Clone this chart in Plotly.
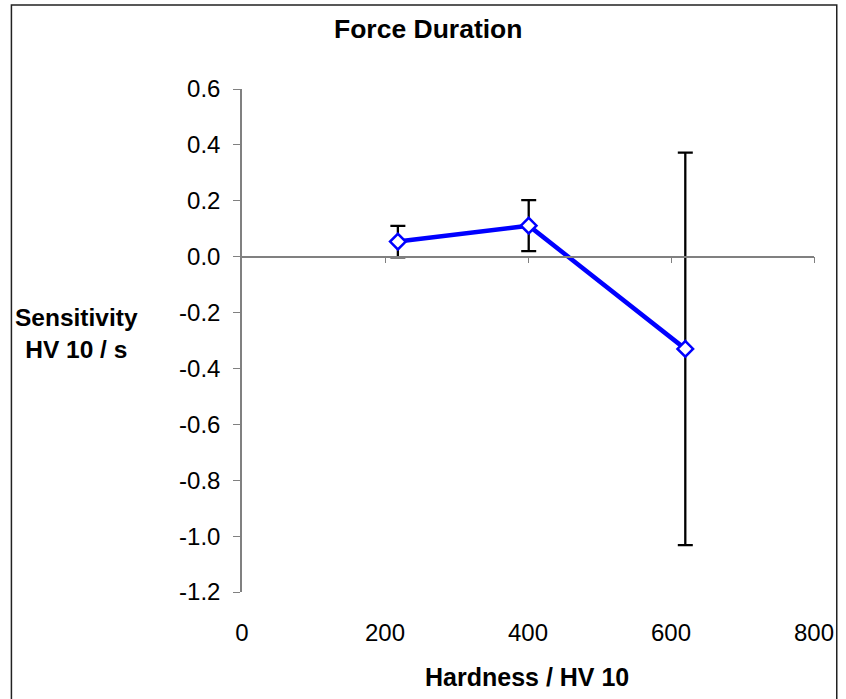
import plotly.graph_objects as go

# ---- data ----
hardness = [218, 401, 620]
sensitivity = [0.054, 0.111, -0.330]
error = [0.056, 0.091, 0.702]

x_ticks = [0, 200, 400, 600, 800]
x_ticktext = ["0", "200", "400", "600", "800"]
y_ticks = [-1.2, -1.0, -0.8, -0.6, -0.4, -0.2, 0.0, 0.2, 0.4, 0.6]
y_ticktext = ["-1.2", "-1.0", "-0.8", "-0.6", "-0.4", "-0.2", "0.0", "0.2", "0.4", "0.6"]

title_text = "Force Duration"
x_title = "Hardness / HV 10"
y_title = "Sensitivity<br>HV 10 / s"

W, H = 846, 699
L, R, T, B = 242, 26, 89, 107
PW, PH = W - L - R, H - T - B

def px(x):
    return (x - L) / PW

def py(y):
    return (H - B - y) / PH

FONT = "Liberation Sans, Arial, sans-serif"

fig = go.Figure()

# error bars (drawn first, below the line/markers)
fig.add_trace(go.Scatter(
    x=hardness, y=sensitivity, mode="markers",
    marker=dict(size=1, opacity=0),
    error_y=dict(type="data", array=error, visible=True,
                 color="black", thickness=2.3, width=7.5),
    xaxis="x", yaxis="y", showlegend=False, hoverinfo="skip",
))

# line with open diamonds
fig.add_trace(go.Scatter(
    x=hardness, y=sensitivity, mode="lines+markers",
    line=dict(color="#0000FF", width=4.5),
    marker=dict(symbol="diamond", size=12, color="white",
                line=dict(color="#0000FF", width=2.5)),
    xaxis="x2", yaxis="y", showlegend=False,
))

y_min, y_max = -1.2, 0.6
zero_pos = (0 - y_min) / (y_max - y_min)

fig.update_layout(
    width=W, height=H,
    margin=dict(l=L, r=R, t=T, b=B),
    paper_bgcolor="white", plot_bgcolor="white",
    font=dict(family=FONT, size=24, color="black"),
    xaxis=dict(
        range=[0, 800], tickvals=x_ticks, ticktext=x_ticktext,
        showline=False, showgrid=False, zeroline=False,
        ticks="", ticklabelstandoff=24,
        tickfont=dict(size=24),
    ),
    xaxis2=dict(
        range=[0, 800], overlaying="x", anchor="free", position=zero_pos,
        side="bottom",
        tickvals=[200, 400, 600, 800], showticklabels=False,
        showline=True, linecolor="#808080", linewidth=1.5,
        ticks="outside", ticklen=6, tickcolor="#808080", tickwidth=1.2,
        showgrid=False, zeroline=False,
    ),
    yaxis=dict(
        range=[y_min, y_max], tickvals=y_ticks, ticktext=y_ticktext,
        showline=True, linecolor="#808080", linewidth=1.5,
        ticks="outside", ticklen=7, tickcolor="#808080", tickwidth=1.2,
        showgrid=False, zeroline=False, ticklabelstandoff=8,
        tickfont=dict(size=24),
    ),
    annotations=[
        dict(text="<b>" + title_text + "</b>", x=px(430), y=py(29),
             xref="paper", yref="paper", xanchor="center", yanchor="middle",
             showarrow=False, font=dict(size=26.5)),
        dict(text="<b>" + x_title + "</b>", x=px(530), y=py(677),
             xref="paper", yref="paper", xanchor="center", yanchor="middle",
             showarrow=False, font=dict(size=25)),
        dict(text="<b>" + y_title + "</b>", x=px(75), y=py(333),
             xref="paper", yref="paper", xanchor="center", yanchor="middle",
             showarrow=False, font=dict(size=24.5), align="center"),
    ],
    shapes=[
        dict(type="rect", xref="paper", yref="paper",
             x0=px(9), x1=px(843), y0=py(5), y1=py(705),
             line=dict(color="#222222", width=1.5), fillcolor="rgba(0,0,0,0)",
             layer="below"),
    ],
)

fig.write_html("out.html", config={"displayModeBar": False},
               post_script="document.body.style.margin='0';")
